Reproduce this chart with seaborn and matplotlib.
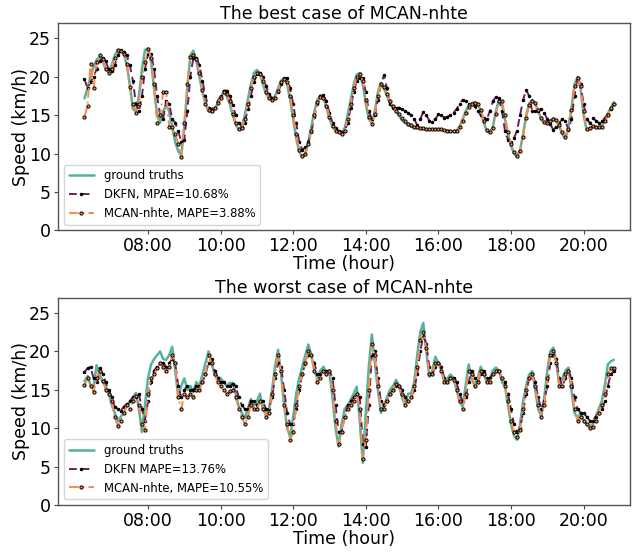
import numpy as np
import pandas as pd
import matplotlib
matplotlib.use("Agg")
import matplotlib.pyplot as plt
import matplotlib.dates as mdates
import seaborn as sns

# 5-minute samples from 06:15 to 20:50 (176 per series)
best_truth = [
    17.2, 18.5, 20.0, 21.3, 22.2, 22.6, 22.0, 21.0, 20.6,
    21.5, 22.8, 23.5, 23.4, 23.0, 21.5, 19.0, 15.8, 15.5, 17.5, 21.0, 23.5,
    23.7, 22.0, 18.5, 15.0, 14.0, 15.5, 16.3, 15.5, 13.5, 11.5, 10.3, 9.8,
    13.5, 18.5, 22.8, 23.4, 22.0, 20.0, 18.0, 16.5, 15.5, 15.4, 15.8, 16.5,
    17.3, 18.0, 17.5, 16.5, 15.0, 13.8, 13.1, 13.5, 15.0, 17.0, 19.0, 20.5,
    20.9, 20.5, 19.0, 17.8, 17.2, 17.0, 17.5, 18.5, 19.5, 19.8, 19.0, 17.0,
    14.5, 12.0, 10.2, 9.6, 10.0, 11.5, 13.5, 15.5, 17.0, 17.6, 17.3, 16.0,
    14.5, 13.5, 13.0, 12.8, 12.7, 13.3, 15.0, 17.0, 19.0, 20.3, 20.5, 19.0,
    16.5, 14.5, 14.0, 15.5, 18.0, 19.2, 18.5, 17.5, 16.5, 16.0, 15.5, 15.0,
    14.3, 14.0, 13.7, 13.5, 13.4, 13.3, 13.2, 13.2, 13.1, 13.1, 13.1, 13.1,
    13.1, 13.1, 13.0, 13.0, 12.9, 12.8, 13.0, 13.5, 14.5, 15.5, 16.3, 16.6,
    16.7, 16.5, 15.5, 14.0, 12.9, 12.7, 13.5, 15.5, 17.0, 16.5, 14.5, 12.5,
    11.0, 10.0, 9.6, 10.5, 12.5, 15.0, 16.5, 17.0, 16.5, 15.5, 14.5, 14.0,
    14.0, 14.3, 14.6, 14.3, 13.5, 12.5, 12.0, 13.5, 16.0, 19.0, 20.0, 18.5,
    15.0, 13.1, 13.3, 13.5, 13.4, 13.3, 13.6, 14.3, 15.2, 16.0, 16.7,
]
best_dkfn = [
    19.7, 18.5, 19.3, 20.0, 21.0, 22.0, 22.5, 22.0, 21.0,
    20.8, 21.5, 22.8, 23.5, 23.2, 22.8, 21.5, 19.5, 16.5, 15.5, 17.5, 21.0,
    23.0, 23.0, 21.0, 17.5, 15.0, 14.5, 16.8, 16.5, 14.5, 14.0, 13.0, 11.5,
    11.8, 15.5, 20.0, 22.5, 22.5, 21.5, 19.5, 17.5, 16.0, 15.8, 16.0, 16.8,
    17.5, 18.2, 18.2, 17.5, 16.3, 15.0, 14.0, 13.5, 14.0, 15.8, 17.5, 19.3,
    20.3, 20.5, 20.0, 18.8, 17.8, 17.2, 17.3, 18.0, 19.0, 19.8, 19.8, 18.5,
    16.5, 14.0, 11.5, 10.5, 10.8, 11.5, 12.8, 14.8, 16.5, 17.5, 17.6, 16.8,
    15.3, 14.0, 13.3, 13.0, 12.8, 12.9, 14.0, 16.0, 18.0, 19.5, 19.8, 19.8,
    18.0, 15.5, 14.5, 15.0, 17.0, 19.0, 20.2, 18.5, 16.5, 16.0, 15.9, 16.0,
    15.8, 15.5, 15.3, 15.0, 14.5, 13.7, 14.5, 15.4, 15.0, 14.3, 14.1, 14.5,
    15.1, 15.0, 14.7, 14.8, 15.0, 15.3, 15.8, 16.5, 17.0, 16.8, 16.5, 16.5,
    16.2, 15.5, 15.0, 14.6, 14.5, 15.5, 16.8, 17.4, 17.2, 15.5, 13.0, 11.8,
    11.5, 12.0, 13.0, 15.0, 17.0, 18.3, 17.5, 15.6, 15.5, 15.6, 15.8, 15.3,
    14.5, 13.8, 13.1, 13.5, 14.0, 14.5, 14.2, 13.1, 14.5, 17.5, 19.9, 19.0,
    16.5, 14.5, 14.0, 14.7, 14.3, 14.0, 14.2, 14.6, 15.2, 15.8, 16.4,
]
best_mcan = [
    14.8, 16.2, 21.7, 18.5, 21.9, 22.8, 22.3, 21.0, 20.5,
    21.0, 22.5, 23.5, 23.4, 23.0, 21.7, 18.7, 16.5, 15.3, 16.5, 20.0, 21.9,
    23.6, 22.5, 19.0, 14.0, 15.0, 18.0, 18.0, 13.5, 13.5, 12.5, 11.3, 9.6,
    14.0, 19.1, 22.6, 22.8, 22.3, 20.5, 18.3, 16.5, 15.7, 15.5, 16.0, 16.6,
    17.2, 18.0, 17.8, 16.8, 15.2, 14.0, 13.2, 13.3, 14.5, 16.5, 18.5, 20.0,
    20.5, 20.4, 19.5, 18.0, 17.3, 17.0, 17.3, 18.2, 19.3, 19.7, 19.3, 17.5,
    15.0, 12.5, 10.5, 9.7, 10.0, 11.2, 13.0, 15.0, 16.7, 17.4, 17.2, 16.2,
    14.8, 13.6, 13.0, 12.8, 12.6, 13.0, 14.5, 16.5, 18.5, 20.0, 20.3, 19.5,
    17.0, 14.8, 13.8, 15.2, 17.5, 19.0, 18.7, 17.8, 16.8, 16.2, 15.6, 15.2,
    14.6, 14.2, 13.9, 13.7, 13.5, 13.4, 13.3, 13.3, 13.2, 13.2, 13.2, 13.2,
    13.2, 13.2, 13.1, 13.0, 13.0, 12.9, 13.0, 13.4, 14.3, 15.3, 16.1, 16.5,
    16.6, 16.5, 15.7, 14.3, 13.1, 12.8, 13.3, 15.2, 16.8, 16.8, 15.0, 12.8,
    11.3, 10.2, 9.7, 10.3, 12.2, 14.7, 16.3, 16.9, 16.6, 15.7, 14.7, 14.1,
    14.0, 14.2, 14.5, 14.4, 13.7, 12.8, 12.1, 13.2, 15.7, 18.8, 19.9, 18.8,
    15.5, 13.2, 13.3, 13.6, 13.5, 13.4, 13.5, 14.2, 15.0, 15.9, 16.5,
]

worst_truth = [
    16.1, 16.8, 15.6, 15.2, 18.2, 17.0, 16.0, 15.5, 14.6,
    13.0, 12.0, 10.9, 11.5, 12.0, 13.0, 13.5, 14.0, 14.6, 12.5, 9.5, 13.0,
    16.5, 18.3, 19.0, 19.5, 20.0, 19.0, 18.9, 19.5, 20.6, 17.5, 14.1, 15.5,
    16.5, 15.0, 15.5, 14.7, 16.0, 15.5, 17.0, 18.5, 20.0, 18.5, 17.0, 16.7,
    16.5, 16.0, 15.5, 15.9, 15.9, 14.5, 12.8, 12.0, 11.3, 12.5, 13.8, 13.0,
    13.5, 14.5, 12.5, 12.0, 12.5, 15.0, 18.0, 20.2, 17.0, 13.0, 10.0, 8.9,
    11.5, 14.5, 16.5, 18.0, 19.5, 20.9, 19.5, 17.5, 16.5, 17.5, 18.0, 17.2,
    17.2, 14.0, 10.0, 7.6, 10.5, 12.5, 13.0, 13.7, 14.5, 15.4, 11.0, 5.5,
    12.0, 18.0, 22.2, 18.5, 15.0, 12.0, 13.0, 14.0, 15.0, 15.5, 16.3, 15.5,
    14.0, 13.0, 14.5, 14.5, 16.0, 19.5, 22.5, 23.7, 20.0, 16.7, 17.5, 19.3,
    18.5, 17.5, 16.0, 16.5, 17.0, 16.5, 15.0, 13.5, 12.8, 15.5, 18.3, 16.5,
    15.5, 16.5, 18.0, 17.0, 16.0, 16.5, 17.5, 17.9, 17.5, 16.0, 15.5, 13.0,
    10.5, 9.0, 8.5, 10.5, 13.5, 15.5, 17.0, 17.4, 15.0, 12.5, 11.5, 14.0,
    17.5, 20.0, 20.5, 18.5, 15.5, 16.5, 17.5, 17.9, 15.0, 12.0, 11.3, 12.0,
    11.0, 10.5, 10.2, 10.5, 11.5, 12.5, 13.5, 15.5, 18.3, 18.7, 18.9,
]
worst_dkfn = [
    17.3, 17.8, 18.0, 16.5, 16.0, 17.8, 17.0, 16.0, 15.0,
    14.0, 12.8, 12.5, 12.3, 12.8, 13.2, 13.5, 14.0, 14.0, 14.5, 12.5, 11.0,
    13.5, 16.0, 17.5, 18.0, 18.5, 18.5, 18.0, 18.5, 19.0, 18.5, 15.5, 14.0,
    15.0, 15.5, 15.0, 15.0, 15.5, 15.5, 16.0, 17.0, 18.5, 19.0, 17.5, 16.5,
    16.0, 16.0, 15.5, 15.5, 15.8, 15.5, 14.0, 13.0, 12.5, 12.5, 13.5, 13.5,
    13.0, 13.5, 13.5, 12.5, 12.5, 14.0, 16.5, 18.5, 18.0, 15.0, 12.0, 10.5,
    10.5, 12.5, 15.0, 17.0, 18.5, 19.5, 19.5, 18.5, 17.0, 17.0, 17.5, 17.5,
    17.5, 16.5, 13.0, 9.5, 9.5, 11.5, 13.0, 13.5, 14.0, 14.5, 14.0, 8.0,
    7.5, 13.0, 19.5, 20.0, 16.5, 13.5, 13.0, 13.5, 14.5, 15.0, 15.5, 15.5,
    15.0, 14.0, 13.5, 14.0, 15.0, 17.0, 20.0, 22.0, 21.0, 18.0, 17.0, 18.0,
    18.5, 18.0, 16.5, 16.0, 16.5, 16.5, 16.0, 14.5, 13.5, 14.0, 16.0, 17.5,
    16.5, 16.0, 17.0, 17.5, 16.5, 16.5, 17.0, 17.5, 17.5, 16.5, 16.0, 14.5,
    12.5, 10.5, 9.5, 10.0, 12.0, 14.5, 16.5, 17.0, 16.0, 14.0, 12.5, 13.5,
    15.5, 18.5, 19.5, 19.0, 16.5, 15.5, 16.5, 17.5, 16.5, 14.0, 12.5, 12.0,
    12.0, 11.5, 11.0, 11.0, 11.5, 12.0, 12.5, 13.5, 15.5, 17.0, 17.5,
]
worst_mcan = [
    15.6, 16.5, 15.5, 14.7, 16.5, 17.5, 16.2, 15.0, 14.5,
    13.5, 11.5, 10.3, 11.0, 12.0, 13.0, 12.5, 13.5, 14.2, 13.0, 10.5, 9.8,
    14.5, 16.5, 17.0, 17.8, 18.5, 18.0, 17.5, 18.0, 19.5, 18.5, 14.0, 12.5,
    14.5, 14.0, 14.5, 14.0, 15.0, 15.0, 16.0, 17.0, 19.5, 18.5, 17.0, 16.0,
    15.5, 15.0, 14.5, 14.8, 15.0, 14.0, 12.5, 11.5, 10.5, 11.5, 13.0, 12.5,
    12.5, 13.5, 12.5, 11.5, 12.0, 14.5, 17.0, 19.5, 17.5, 13.0, 10.5, 8.5,
    9.5, 13.0, 15.5, 17.0, 18.5, 20.0, 19.5, 17.5, 16.0, 16.5, 17.5, 17.0,
    17.5, 15.0, 11.0, 8.0, 9.5, 11.5, 12.5, 13.0, 13.5, 14.5, 12.5, 6.0,
    8.5, 15.0, 21.0, 19.5, 15.5, 12.5, 12.5, 13.5, 14.5, 15.0, 15.8, 15.5,
    14.5, 13.0, 13.5, 14.0, 15.5, 18.0, 21.5, 22.5, 20.5, 17.0, 17.0, 18.5,
    18.5, 17.5, 16.0, 16.0, 16.5, 16.3, 15.0, 13.5, 12.5, 14.5, 17.5, 17.0,
    15.5, 16.0, 17.5, 17.0, 16.0, 16.0, 17.0, 17.5, 17.5, 16.5, 15.5, 13.5,
    11.0, 9.5, 8.8, 9.8, 12.5, 15.0, 16.5, 17.0, 15.5, 13.0, 11.5, 13.0,
    16.5, 19.5, 20.0, 18.5, 15.5, 15.5, 17.0, 17.5, 15.5, 12.5, 11.0, 11.5,
    11.0, 10.5, 10.0, 10.2, 11.0, 12.0, 13.0, 14.5, 17.0, 17.8, 17.8,
]

panel_titles = ["The best case of MCAN-nhte", "The worst case of MCAN-nhte"]
dkfn_labels = ["DKFN, MPAE=10.68%", "DKFN MAPE=13.76%"]
mcan_labels = ["MCAN-nhte, MAPE=3.88%", "MCAN-nhte, MAPE=10.55%"]
hour_ticks = [8, 10, 12, 14, 16, 18, 20]

times = pd.date_range("2020-01-01 06:15", periods=len(best_truth), freq="5min")
day = pd.Timestamp("2020-01-01")

sns.set_theme(style="white")
plt.rcParams["font.family"] = ["DejaVu Sans"]
plt.rcParams.update({
    "text.color": "black",
    "axes.labelcolor": "black",
    "xtick.color": "black",
    "ytick.color": "black",
})

truth_color = "#55b39c"
dkfn_color = "#6e1f5e"
mcan_color = "#fb8a4f"

fig, axes = plt.subplots(2, 1, figsize=(6.32, 5.52), dpi=100)
fig.subplots_adjust(left=0.0918, right=0.9968, top=0.9583, bottom=0.0851, hspace=0.324)

panels = [(best_truth, best_dkfn, best_mcan), (worst_truth, worst_dkfn, worst_mcan)]
for k, (ax, (gt, dk, mc)) in enumerate(zip(axes, panels)):
    sns.lineplot(x=times, y=gt, ax=ax, color=truth_color, lw=1.8,
                 label="ground truths")
    sns.lineplot(x=times, y=dk, ax=ax, color=dkfn_color, lw=1.4,
                 linestyle=(0, (4, 2.5)), marker=".", markersize=3.5,
                 markerfacecolor="black", markeredgecolor="black",
                 label=dkfn_labels[k])
    sns.lineplot(x=times, y=mc, ax=ax, color=mcan_color, lw=1.4,
                 linestyle=(0, (5, 2, 1, 2)), marker="o", markersize=2.3,
                 markerfacecolor=mcan_color, markeredgecolor="black",
                 markeredgewidth=0.7, label=mcan_labels[k])

    ax.set_ylim(0, 27)
    ax.set_yticks([0, 5, 10, 15, 20, 25])
    ax.set_xlim(day + pd.Timedelta(hours=5.521), day + pd.Timedelta(hours=21.278))
    ax.set_xticks([day + pd.Timedelta(hours=h) for h in hour_ticks])
    ax.xaxis.set_major_formatter(mdates.DateFormatter("%H:%M"))
    ax.tick_params(axis="both", labelsize=12.5, length=3, width=0.8,
                   color="#444444", labelcolor="black", bottom=True, left=True, pad=2)
    for sp in ax.spines.values():
        sp.set_color("#555555")
        sp.set_linewidth(1.0)
    ax.set_title(panel_titles[k], fontsize=12.5, pad=3, color="black")
    ax.set_xlabel("Time (hour)", fontsize=12.5, labelpad=0, color="black")
    ax.set_ylabel("Speed (km/h)", fontsize=12.5, labelpad=-1, color="black")
    leg = ax.legend(loc="lower left", fontsize=8.4, frameon=True,
                    handlelength=2.2, borderaxespad=0.5)
    for txt in leg.get_texts():
        txt.set_color("black")

fig.savefig("out.png", dpi=100)
